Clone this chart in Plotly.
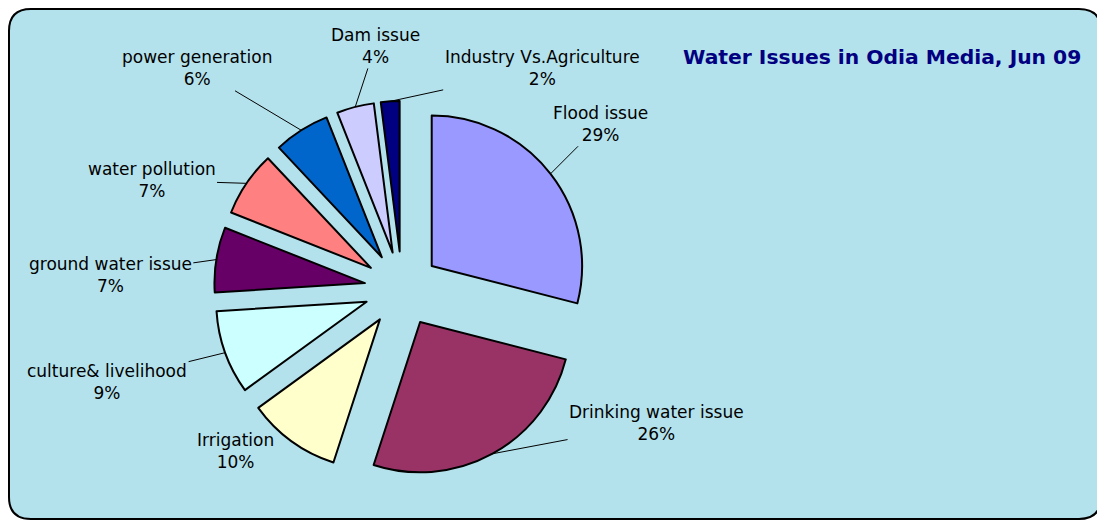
import math
import plotly.graph_objects as go

categories = ["Flood issue", "Drinking water issue", "Irrigation", "culture& livelihood",
              "ground water issue", "water pollution", "power generation", "Dam issue",
              "Industry Vs.Agriculture"]
shares = [29, 26, 10, 9, 7, 7, 6, 4, 2]
colors = ["#9999FF", "#993366", "#FFFFCC", "#CCFFFF", "#660066", "#FF8080",
          "#0066CC", "#CCCCFF", "#000080"]
title_text = "Water Issues in Odia Media, Jun 09"

# label placement (pixel offsets of each label from its slice edge) - layout only
label_dx = [50, 164, -56, -118, -106, -95, -104, 20, 152]
label_dy = [-50, -31, 10, 29, 15, -3, -62, -61, -33]
leader = [True, True, False, True, True, True, True, True, True]

W, H = 1097, 515
PULL = 0.25
cx_px, cy_px, half = 394, 281, 188
dom_x = [(cx_px - half) / W, (cx_px + half) / W]
dom_y = [(H - cy_px - half) / H, (H - cy_px + half) / H]

fig = go.Figure()
fig.add_trace(go.Pie(
    labels=categories, values=shares, sort=False, direction="clockwise", rotation=0,
    marker=dict(colors=colors, line=dict(color="black", width=2)),
    pull=[PULL] * len(shares),
    textinfo="none",
    domain=dict(x=dom_x, y=dom_y),
    automargin=False,
    showlegend=False, hoverinfo="label+percent",
))

# labels with leader lines anchored on each slice's outer edge (from the data angles)
r = min((dom_x[1] - dom_x[0]) * W, (dom_y[1] - dom_y[0]) * H) / 2 / (1 + PULL)
total = sum(shares)
cum = 0.0
for i, (lab, v) in enumerate(zip(categories, shares)):
    mid = 2 * math.pi * (cum + v / 2) / total
    cum += v
    px = cx_px + r * (1 + PULL) * math.sin(mid)
    py = cy_px - r * (1 + PULL) * math.cos(mid)
    pct = round(100 * v / total)
    fig.add_annotation(
        text=f"{lab}<br>{pct}%", xref="paper", yref="paper",
        x=px / W, y=1 - py / H, ax=label_dx[i], ay=label_dy[i],
        showarrow=True, arrowhead=0, arrowwidth=1,
        arrowcolor="black" if leader[i] else "rgba(0,0,0,0)",
        standoff=0, startstandoff=0,
        font=dict(family="DejaVu Sans", size=17, color="black"), align="center",
    )

# frame with rounded corners
x0, x1 = 1 / W, 1093 / W
y0, y1 = 1 - 511 / H, 1 - 1 / H
rx, ry = 22 / W, 22 / H
path = (f"M {x0+rx},{y0} L {x1-rx},{y0} Q {x1},{y0} {x1},{y0+ry} L {x1},{y1-ry} "
        f"Q {x1},{y1} {x1-rx},{y1} L {x0+rx},{y1} Q {x0},{y1} {x0},{y1-ry} "
        f"L {x0},{y0+ry} Q {x0},{y0} {x0+rx},{y0} Z")
fig.add_shape(type="path", path=path, xref="paper", yref="paper",
              fillcolor="#b4e2ec", line=dict(color="black", width=2), layer="below")

fig.add_annotation(text="<b>" + title_text + "</b>", xref="paper", yref="paper",
                   x=874 / W, y=1 - 49 / H, xanchor="center", yanchor="middle",
                   showarrow=False, font=dict(family="DejaVu Sans", size=20.3, color="#000080"))

fig.update_layout(width=W, height=H, margin=dict(l=0, r=0, t=0, b=0, autoexpand=False),
                  paper_bgcolor="white", plot_bgcolor="rgba(0,0,0,0)")
fig.write_html("out.html")
